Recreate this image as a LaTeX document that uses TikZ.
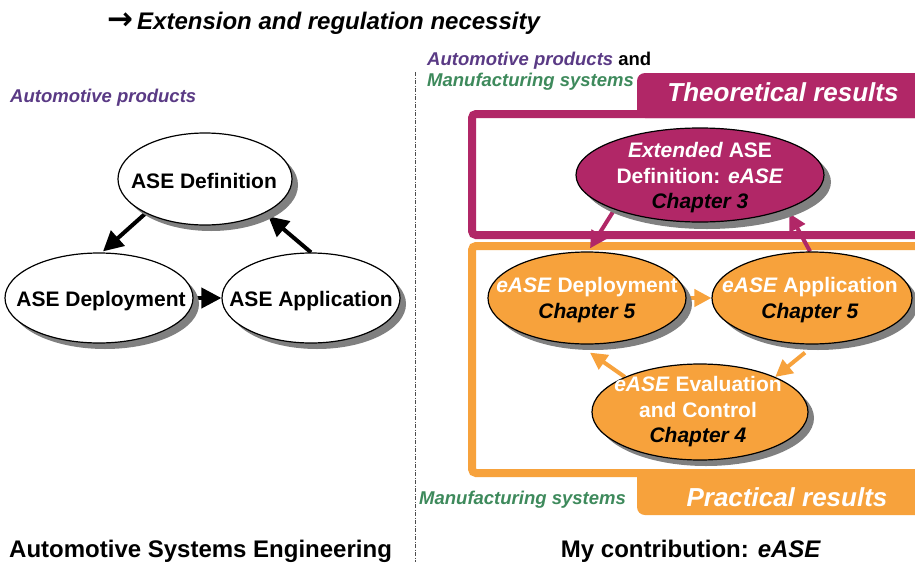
\documentclass[tikz,border=0pt]{standalone}
\usepackage{fontspec}
\setmainfont{Liberation Sans}
\newfontfamily\arrowfont{DejaVu Sans}
\usetikzlibrary{shapes.geometric,arrows.meta,shadows,calc}
\pgfdeclarelayer{back}\pgfdeclarelayer{mid}
\pgfsetlayers{back,mid,main}
\definecolor{purp}{HTML}{5A3A85}
\definecolor{mag}{HTML}{B12767}
\definecolor{orng}{HTML}{F7A23C}
\definecolor{grn}{HTML}{3E8A5C}
\definecolor{shad}{HTML}{808080}
\begin{document}
\begin{tikzpicture}[x=1pt,y={(0pt,-1pt)},
  ell/.style={ellipse, draw=black, line width=1.2pt, inner sep=0pt,
    drop shadow={shadow xshift=6pt, shadow yshift=-6pt, fill=shad, opacity=1}},
  txt/.style={font=\fontsize{21}{25.5}\selectfont\bfseries, align=center, inner sep=0pt},
  lbl/.style={font=\fontsize{18.5}{22}\selectfont\bfseries\itshape, inner sep=0pt, anchor=west},
  big/.style={font=\fontsize{24}{28}\selectfont\bfseries, inner sep=0pt},
  tab/.style={font=\fontsize{26}{30}\selectfont\bfseries\itshape, text=white, inner sep=0pt},
  blk/.style={line width=4pt, -{Triangle[length=20pt,width=20pt]}},
  magarr/.style={draw=mag, line width=4pt, -{Triangle[length=17pt,width=17pt]}},
  orarr/.style={draw=orng, line width=4pt, -{Triangle[length=17pt,width=17pt]}}
]
\useasboundingbox (0,0) rectangle (915,562);
\begin{pgfonlayer}{back}
  \fill[white] (0,0) rectangle (915,562);
  \draw[black!70, line width=0.8pt, dash pattern=on 4pt off 1.5pt on 1pt off 1.5pt] (415,72) -- (415,562);
  \fill[mag, rounded corners=8pt] (637,73) rectangle (960,118);
  \draw[mag, line width=8pt, rounded corners=4pt] (472,114) rectangle (960,235);
  \draw[orng, line width=8pt, rounded corners=4pt] (472,246) rectangle (960,473);
  \fill[orng, rounded corners=8pt] (637,470) rectangle (960,515);
\end{pgfonlayer}

% texts
\node[big, anchor=west] (title) at (107,23) {{\arrowfont\bfseries\fontsize{31}{31}\selectfont →}\,\textit{Extension and regulation necessity}};
\node[lbl, text=purp] (ap1) at (10,98) {Automotive products};
\node[lbl] (ap2) at (427,61) {\textcolor{purp}{Automotive products} \textup{and}};
\node[lbl, text=grn] (ms1) at (427,82) {Manufacturing systems};
\node[lbl, text=grn] (ms2) at (419,500) {Manufacturing systems};
\node[tab] (theo) at (783,92) {Theoretical results};
\node[tab] (prac) at (787,497) {Practical results};
\node[big, anchor=west] (ase) at (9,551) {Automotive Systems Engineering};
\node[big] (myc) at (691,551) {My contribution: \textit{eASE}};

% left ellipses
\node[ell, fill=white, minimum width=174pt, minimum height=92pt] (def) at (205,179) {};
\node[ell, fill=white, minimum width=188pt, minimum height=90pt] (dep) at (99,298) {};
\node[ell, fill=white, minimum width=178pt, minimum height=90pt] (app) at (311,298) {};
\node[txt] (tdef) at (204,181) {ASE Definition};
\node[txt] (tdep) at (101,301) {ASE Deployment};
\node[txt] (tapp) at (311,301) {ASE Application};

% right ellipses
\node[ell, fill=mag, minimum width=248pt, minimum height=94pt, drop shadow={shadow xshift=7pt, shadow yshift=-7pt, fill=shad, opacity=1}] (ext) at (700,175) {};
\node[ell, fill=orng, minimum width=198pt, minimum height=92pt] (dep2) at (587,298) {};
\node[ell, fill=orng, minimum width=200pt, minimum height=92pt] (app2) at (812,298) {};
\node[ell, fill=orng, minimum width=216pt, minimum height=96pt] (eval) at (700,412) {};
\node[txt, text=white] (text) at (700,178) {\textit{Extended} ASE\\Definition: \textit{eASE}\\\textcolor{black}{\textit{Chapter 3}}};
\node[txt, text=white] (tdep2) at (587,300) {\textit{eASE} Deployment\\\textcolor{black}{\textit{Chapter 5}}};
\node[txt, text=white] (tapp2) at (810,300) {\textit{eASE} Application\\\textcolor{black}{\textit{Chapter 5}}};
\node[txt, text=white] (teval) at (698,412) {\textit{eASE} Evaluation\\and Control\\\textcolor{black}{\textit{Chapter 4}}};

% arrows
\begin{pgfonlayer}{mid}
  \draw[blk] (def.210) -- ([shift={(4,-1)}]dep.north);
  \draw[blk] (app.north) -- ([shift={(4,3)}]def.330);
  \draw[blk] (dep.east) -- (app.west);
  \draw[magarr] (ext.202) -- ([shift={(3,-3)}]dep2.north);
  \draw[magarr] ([xshift=-2pt]app2.north) -- ([shift={(6,3)}]ext.337);
  \draw[orarr] (dep2.east) -- (app2.west);
  \draw[orarr] ([shift={(-7,8)}]app2.south) -- (eval.25);
  \draw[orarr] (eval.155) -- ([shift={(3,8)}]dep2.south);
\end{pgfonlayer}
\end{tikzpicture}
\end{document}
